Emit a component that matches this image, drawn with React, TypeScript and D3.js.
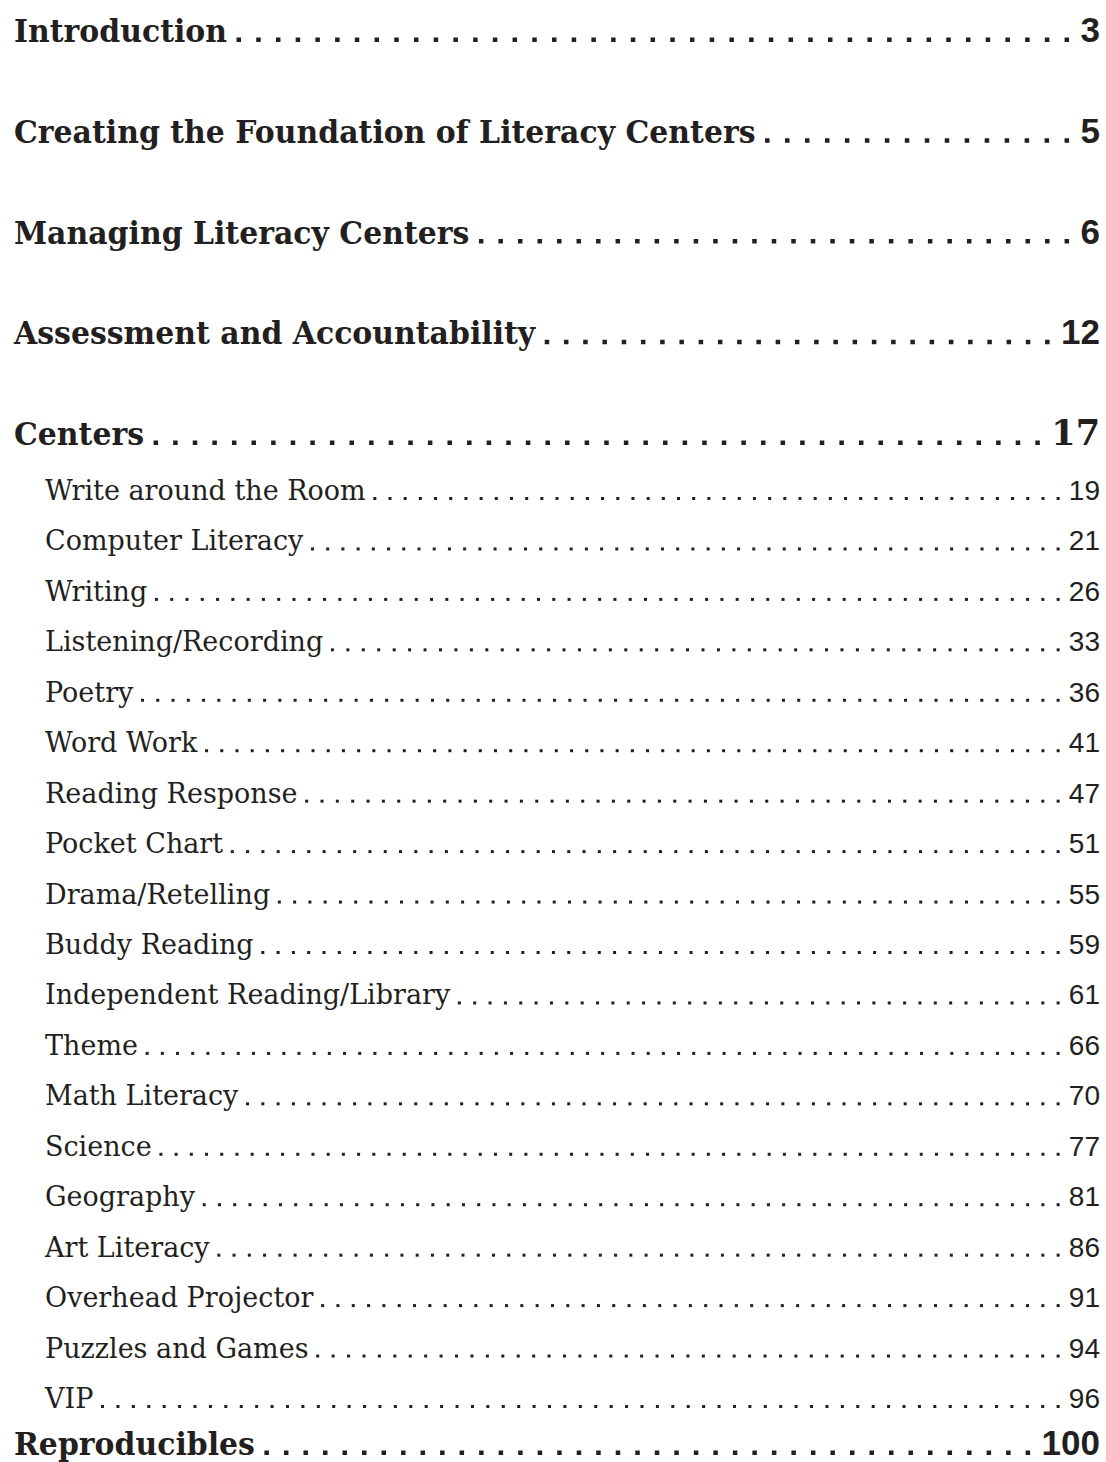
import { useEffect, useRef } from 'react';
import * as d3 from 'd3';

const WIDTH = 1106;
const HEIGHT = 1462;

// main sections
const sectionTitles = [
  'Introduction',
  'Creating the Foundation of Literacy Centers',
  'Managing Literacy Centers',
  'Assessment and Accountability',
  'Centers',
];
const sectionPages = ['3', '5', '6', '12', '17'];

// centers listed under "Centers"
const centerTitles = [
  'Write around the Room',
  'Computer Literacy',
  'Writing',
  'Listening/Recording',
  'Poetry',
  'Word Work',
  'Reading Response',
  'Pocket Chart',
  'Drama/Retelling',
  'Buddy Reading',
  'Independent Reading/Library',
  'Theme',
  'Math Literacy',
  'Science',
  'Geography',
  'Art Literacy',
  'Overhead Projector',
  'Puzzles and Games',
  'VIP',
];
const centerPages = ['19', '21', '26', '33', '36', '41', '47', '51', '55', '59', '61', '66', '70', '77', '81', '86', '91', '94', '96'];

const lastTitle = 'Reproducibles';
const lastPage = '100';

const INK = '#231f20';
const SERIF = '"DejaVu Serif", serif';
const SANS = '"Liberation Sans", Arial, sans-serif';

export default function App() {
  const svgRef = useRef<SVGSVGElement>(null);

  useEffect(() => {
    document.body.style.margin = '0';
    if (!svgRef.current) return;
    const svg = d3.select(svgRef.current);
    svg.selectAll('*').remove();

    const right = 1100;
    const squeeze = 0.935; // headings are a narrower slab face in the original

    const ySection = d3.scaleLinear().domain([0, 4]).range([42, 445]);
    const yCenter = d3.scaleLinear().domain([0, centerTitles.length - 1]).range([500, 1408]);

    // dots spread evenly between the title and the page number
    function leader(g: d3.Selection<SVGGElement, unknown, null, undefined>, x0: number, x1: number, y: number, step: number, size: number) {
      const n = Math.max(1, Math.round((x1 - x0) / step));
      const xs = d3.scaleLinear().domain([0, n]).range([x0, x1]);
      g.selectAll('rect.dot')
        .data(d3.range(n + 1))
        .join('rect')
        .attr('class', 'dot')
        .attr('x', d => xs(d) - size / 2)
        .attr('y', y - size)
        .attr('width', size)
        .attr('height', size)
        .attr('fill', INK);
    }

    function row(title: string, page: string, y: number, heading: boolean, slabNum: boolean) {
      const g = svg.append('g');
      const indent = heading ? 14 : 45;
      const sx = heading ? squeeze : 1;
      const t = g.append('text')
        .attr('transform', `translate(${indent},${y}) scale(${sx},1)`)
        .attr('font-family', SERIF)
        .attr('font-weight', heading ? 700 : 400)
        .attr('font-size', heading ? 32 : 27)
        .attr('fill', INK)
        .text(title);
      const num = g.append('text')
        .attr('x', right)
        .attr('y', y)
        .attr('text-anchor', 'end')
        .attr('font-family', slabNum ? SERIF : SANS)
        .attr('font-weight', heading ? 700 : 400)
        .attr('font-size', heading ? 35 : 28)
        .attr('fill', INK)
        .text(page);
      const tw = (t.node() as SVGTextElement).getComputedTextLength() * sx;
      const nw = (num.node() as SVGTextElement).getComputedTextLength();
      const step = heading ? 19.6 : 15.3;
      leader(g, indent + tw + step * 0.6, right - nw - step * 0.7, y, step, heading ? 4.5 : 3);
    }

    sectionTitles.forEach((s, i) => row(s, sectionPages[i], ySection(i), true, i === 4));
    centerTitles.forEach((s, i) => row(s, centerPages[i], yCenter(i), false, false));
    row(lastTitle, lastPage, 1455, true, false);
  }, []);

  return (
    <svg
      ref={svgRef}
      width={WIDTH}
      height={HEIGHT}
      style={{ display: 'block', background: '#fff' }}
    />
  );
}
